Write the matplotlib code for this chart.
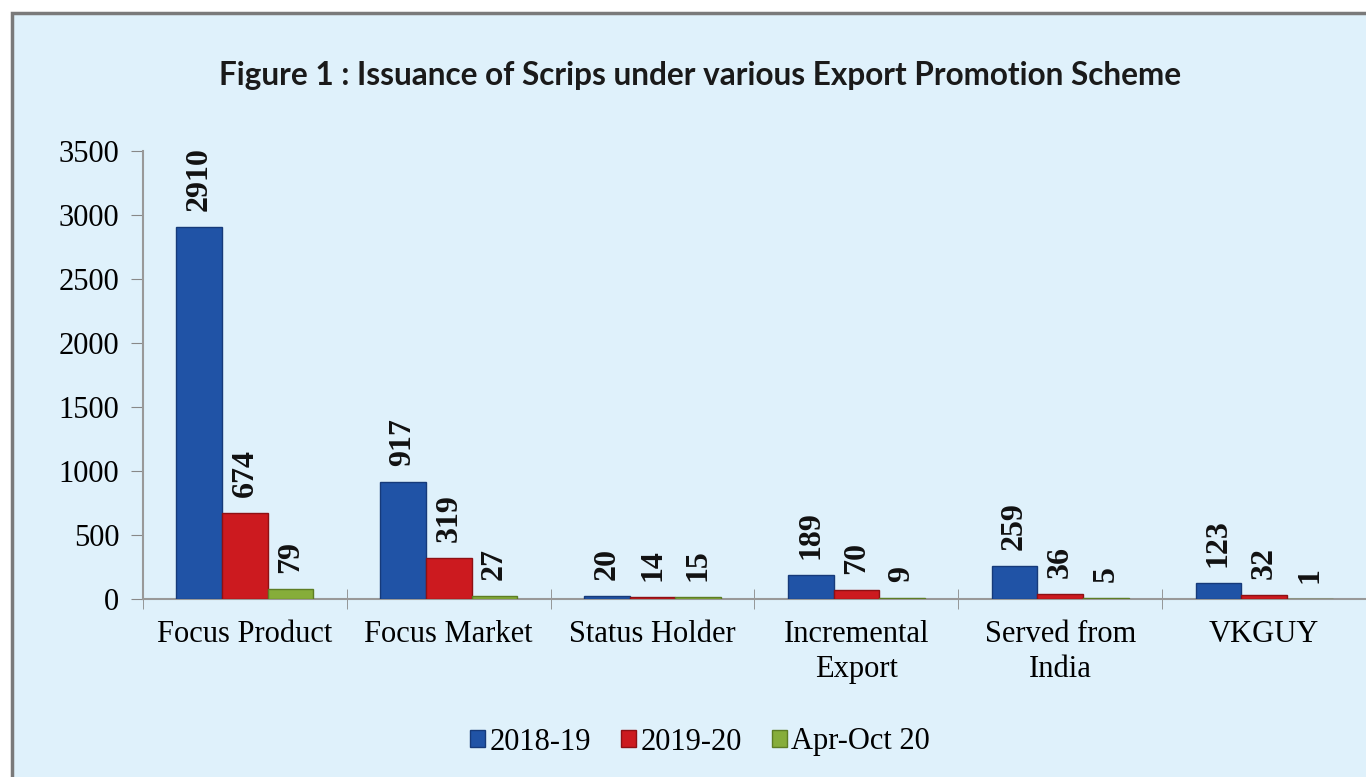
import matplotlib.pyplot as plt
import matplotlib.patches as mpatches
import numpy as np

categories = ["Focus Product", "Focus Market", "Status Holder", "Incremental\nExport", "Served from\nIndia", "VKGUY"]
series_names = ["2018-19", "2019-20", "Apr-Oct 20"]
v_2018_19 = [2910, 917, 20, 189, 259, 123]
v_2019_20 = [674, 319, 14, 70, 36, 32]
v_apr_oct_20 = [79, 27, 15, 9, 5, 1]
yticks = [0, 500, 1000, 1500, 2000, 2500, 3000, 3500]

colors = ["#2053a6", "#cc1a1f", "#86ad3a"]
edges = ["#163a7a", "#8e1014", "#5d7d24"]
bg = "#dff1fb"

fig = plt.figure(figsize=(13.66, 7.77), dpi=100)
fig.patch.set_facecolor("white")

# panel frame
fig.patches.append(mpatches.Rectangle((12 / 1366, -0.1), 1.2, 1 - 13 / 777 + 0.1,
                                      transform=fig.transFigure, facecolor=bg,
                                      edgecolor="#7a7a7a", linewidth=2.5, zorder=-5))

ax = fig.add_axes([143 / 1366, 1 - 599 / 777, 1 - 143 / 1366, (599 - 151) / 777])
ax.set_facecolor("none")
ax.set_zorder(2)

x = np.arange(len(categories))
w = 0.224
serif = "Liberation Serif"
for i, vals in enumerate([v_2018_19, v_2019_20, v_apr_oct_20]):
    pos = x + (i - 1) * w
    ax.bar(pos, vals, width=w, color=colors[i], edgecolor=edges[i], linewidth=1, label=series_names[i], zorder=3)
    for px, v in zip(pos, vals):
        ax.text(px, v + 125, str(v), rotation=90, ha="center", va="bottom",
                fontsize=23, fontweight="bold", family=serif, color="#111111")

ax.set_ylim(0, 3500)
ax.set_xlim(-0.5, -0.5 + 1223 / 205.5)
ax.set_yticks(yticks)
ax.set_yticklabels([str(t) for t in yticks], family=serif, fontsize=22)
ax.set_xticks(x)
ax.set_xticklabels(categories, family=serif, fontsize=22, linespacing=1.3)
ax.set_xticks(np.arange(len(categories) + 1) - 0.5, minor=True)
ax.tick_params(axis="x", which="major", length=0, pad=15)
ax.tick_params(axis="x", which="minor", length=14, direction="inout", color="#888888")
ax.tick_params(axis="y", length=9, color="#888888", pad=8)
for s in ["top", "right"]:
    ax.spines[s].set_visible(False)
for s in ["left", "bottom"]:
    ax.spines[s].set_color("#999999")
    ax.spines[s].set_linewidth(1.5)

fig.text(700 / 1366, 1 - 75 / 777, "Figure 1 : Issuance of Scrips under various Export Promotion Scheme",
         ha="center", va="center", fontsize=22.7, family="Lato", fontweight="bold", color="#1a1a1a")

leg = fig.legend(loc="center", bbox_to_anchor=(700 / 1366, 1 - 742 / 777), ncol=3, frameon=False,
                 prop={"family": serif, "size": 22}, handlelength=0.5, handleheight=0.5,
                 handletextpad=0.12, columnspacing=1.0)

fig.savefig("out.png", dpi=100, facecolor=fig.get_facecolor())
